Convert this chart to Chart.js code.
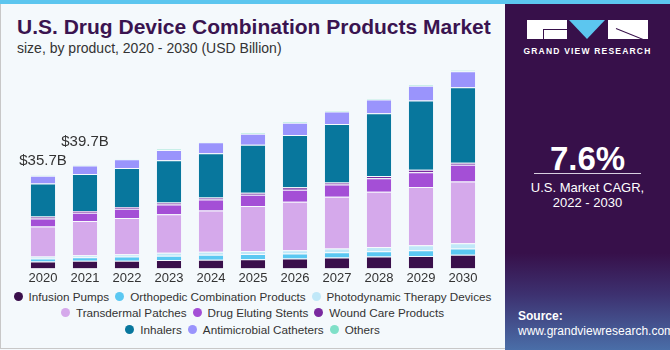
<!DOCTYPE html>
<html lang="en">
<head>
<meta charset="UTF-8">
<title>U.S. Drug Device Combination Products Market</title>
<script src="https://cdn.jsdelivr.net/npm/chart.js@4.4.1/dist/chart.umd.min.js"></script>
<style>
  html, body { margin: 0; padding: 0; }
  body { width: 670px; height: 350px; position: relative; overflow: hidden; background: #f4f9fc; font-family: "Liberation Sans", Arial, sans-serif; }
  #frame { position: absolute; left: 0; top: 0; width: 505px; height: 349px; border-left: 1px solid #c8c8c8; border-bottom: 1px solid #c8c8c8; box-sizing: border-box; }
  #stripe { position: absolute; left: 0; top: 0; width: 670px; height: 4px; background: #5cc6ef; }
  #title { position: absolute; left: 17px; top: 15px; font-size: 21px; font-weight: bold; color: #3a1450; white-space: nowrap; }
  #subtitle { position: absolute; left: 17px; top: 40px; font-size: 14px; color: #333; white-space: nowrap; }
  #chartBox { position: absolute; left: 0; top: 56px; width: 500px; height: 232px; }
  #legend { position: absolute; left: 0; top: 288px; width: 505px; font-size: 11.7px; color: #333; }
  .row { display: flex; justify-content: center; height: 16.5px; align-items: center; }
  .item { display: flex; align-items: center; margin: 0 3px; white-space: nowrap; }
  .dot { width: 9px; height: 9px; border-radius: 50%; margin-right: 6px; }
  #panel { position: absolute; left: 505px; top: 4px; width: 165px; height: 346px;
           background: linear-gradient(180deg, #37104a 0%, #37104a 72%, #3d3170 84%, #4a6ea8 100%); color: #fff; }
  #logo { position: absolute; left: 22px; top: 16px; width: 121px; height: 19px; }
  #logo .b1 { position: absolute; left: 0; top: 0; width: 40px; height: 19px; background: #fff; }
  #logo .b3 { position: absolute; left: 81px; top: 0; width: 40px; height: 19px; background: #fff; overflow: hidden; }
  #logo .g1 { position: absolute; left: 16px; top: 9px; width: 24px; height: 1px; background: #37104a; }
  #logo .g2 { position: absolute; left: 16px; top: 9px; width: 1px; height: 10px; background: #37104a; }
  #logo .r1 { position: absolute; left: 8px; top: 8px; width: 34px; height: 1px; background: #37104a; transform: rotate(22deg); transform-origin: left center; }
  #logo .tri { position: absolute; left: 42px; top: 0; width: 0; height: 0; border-left: 18.5px solid transparent; border-right: 18.5px solid transparent; border-top: 19px solid #5cc6ef; }
  #gvr { position: absolute; left: 0; top: 42px; width: 165px; text-align: center; font-size: 8.5px; font-weight: bold; letter-spacing: 1.2px; }
  #cagr { position: absolute; left: 0; top: 136px; width: 165px; text-align: center; font-size: 33px; font-weight: bold; }
  #rule { position: absolute; left: 29px; top: 169px; width: 107px; height: 1px; background: #d8cfe0; }
  #cagrText { position: absolute; left: 0; top: 176px; width: 165px; text-align: center; font-size: 13px; line-height: 15px; }
  #source { position: absolute; left: 13px; top: 305px; font-size: 12px; line-height: 15px; }
</style>
</head>
<body>
<div id="frame"></div>
<div id="stripe"></div>
<div id="title">U.S. Drug Device Combination Products Market</div>
<div id="subtitle">size, by product, 2020 - 2030 (USD Billion)</div>
<div id="chartBox"><canvas id="myChart"></canvas></div>
<div id="legend"></div>
<div id="panel">
  <div id="logo">
    <div class="b1"><div class="g1"></div><div class="g2"></div></div>
    <div class="tri"></div>
    <div class="b3"><div class="r1"></div></div>
  </div>
  <div id="gvr">GRAND VIEW RESEARCH</div>
  <div id="cagr">7.6%</div>
  <div id="rule"></div>
  <div id="cagrText">U.S. Market CAGR,<br>2022 - 2030</div>
  <div id="source"><b>Source:</b><br>www.grandviewresearch.com</div>
</div>
<script>
  const years = ['2020', '2021', '2022', '2023', '2024', '2025', '2026', '2027', '2028', '2029', '2030']

  // values in USD Billion
  const infusionPumps   = [2.67, 2.9, 2.9, 3.2, 3.3, 3.55, 3.8, 4.2, 4.6, 4.8, 5.2]
  const orthopedic      = [1.15, 1.4, 1.65, 1.65, 1.9, 2.0, 1.9, 2.0, 2.0, 2.15, 2.4]
  const photodynamic    = [0.76, 0.76, 0.9, 1.15, 1.15, 1.15, 1.27, 1.4, 1.65, 1.9, 2.0]
  const transdermal     = [11.5, 13.1, 13.9, 14.8, 15.8, 17.2, 18.6, 19.85, 21.1, 22.4, 23.7]
  const drugEluting     = [3.05, 3.2, 3.55, 3.7, 4.3, 4.3, 4.6, 4.7, 5.2, 5.6, 6.4]
  const woundCare       = [0.76, 0.64, 0.64, 0.76, 0.76, 0.76, 0.9, 0.76, 0.9, 1.0, 0.76]
  const inhalers        = [12.7, 14.2, 14.9, 16.2, 16.9, 18.4, 20.1, 22.4, 24.0, 26.5, 29.0]
  const antimicrobial   = [2.9, 3.2, 3.4, 3.95, 4.2, 4.3, 4.7, 4.8, 5.3, 5.7, 6.1]
  const others          = [0.23, 0.3, 0.25, 0.25, 0.25, 0.25, 0.38, 0.38, 0.38, 0.38, 0.38]

  const seriesNames = ['Infusion Pumps', 'Orthopedic Combination Products', 'Photodynamic Therapy Devices',
    'Transdermal Patches', 'Drug Eluting Stents', 'Wound Care Products',
    'Inhalers', 'Antimicrobial Catheters', 'Others']
  const seriesData = [infusionPumps, orthopedic, photodynamic, transdermal, drugEluting, woundCare, inhalers, antimicrobial, others]
  const seriesColors = ['#3a0f4b', '#5bc8f2', '#c0e8f8', '#d5a9eb', '#a44fd6', '#7a2a9f', '#08779d', '#9a94fc', '#7fe0c8']

  const totalLabels = ['$35.7B', '$39.7B']
  const labelLift = [14, 23]

  // legend rows like the original
  const legendRows = [[0, 1, 2], [3, 4, 5], [6, 7, 8]]

  const legendEl = document.getElementById('legend')
  legendRows.forEach(r => {
    const row = document.createElement('div')
    row.className = 'row'
    r.forEach(i => {
      const it = document.createElement('div')
      it.className = 'item'
      it.innerHTML = '<span class="dot" style="background:' + seriesColors[i] + '"></span>' + seriesNames[i]
      row.appendChild(it)
    })
    legendEl.appendChild(row)
  })

  // draws the $ totals above first two bars
  const totalsPlugin = {
    id: 'totals',
    afterDatasetsDraw(chart) {
      const ctx = chart.ctx
      const topMeta = chart.getDatasetMeta(seriesData.length - 1)
      ctx.save()
      ctx.font = '15px "Liberation Sans", Arial, sans-serif'
      ctx.fillStyle = '#333'
      ctx.textAlign = 'center'
      ctx.textBaseline = 'middle'
      totalLabels.forEach((t, i) => {
        const bar = topMeta.data[i]
        ctx.fillText(t, bar.x, bar.y - labelLift[i])
      })
      ctx.restore()
    }
  }

  const ctx = document.getElementById('myChart').getContext('2d')
  const myChart = new Chart(ctx, {
    type: 'bar',
    data: {
      labels: years,
      datasets: seriesData.map((d, i) => ({
        label: seriesNames[i],
        data: d,
        backgroundColor: seriesColors[i],
        borderColor: 'rgba(255,255,255,0.25)',
        borderWidth: { top: 1 },
        borderSkipped: false,
        categoryPercentage: 1,
        barPercentage: 0.58
      }))
    },
    options: {
      responsive: true,
      maintainAspectRatio: false,
      animation: false,
      layout: { padding: { left: 22, right: 16, top: 3.7, bottom: 0 } },
      scales: {
        x: {
          stacked: true,
          grid: { display: false, drawTicks: false },
          border: { display: false },
          ticks: { color: '#333', font: { size: 13, family: '"Liberation Sans", Arial, sans-serif' }, padding: 2 }
        },
        y: {
          stacked: true,
          display: false,
          min: 0,
          max: 80
        }
      },
      plugins: {
        legend: { display: false },
        tooltip: { enabled: false }
      }
    },
    plugins: [totalsPlugin]
  })
</script>
</body>
</html>
